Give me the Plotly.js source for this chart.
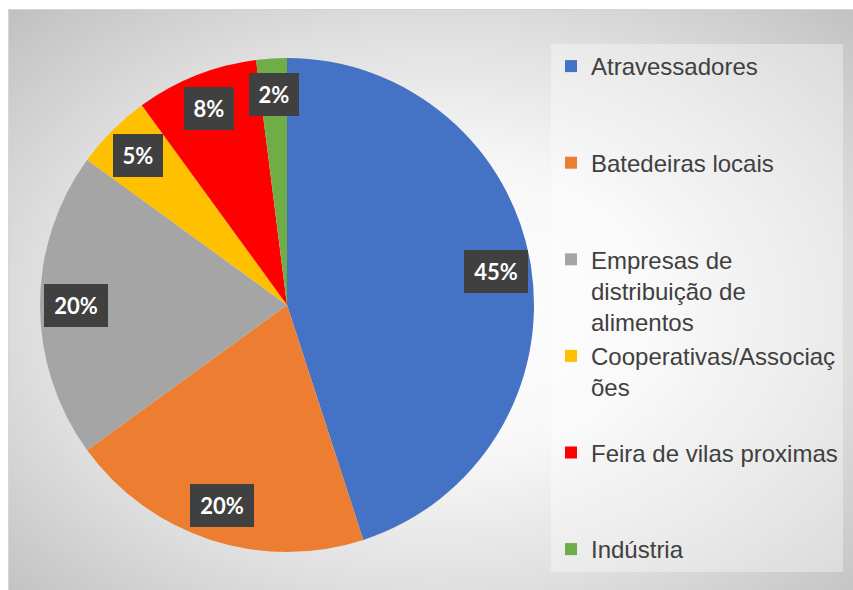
<!DOCTYPE html>
<html><head><meta charset="utf-8">
<script src="https://cdn.plot.ly/plotly-3.0.1.min.js"></script>
<style>
html,body{margin:0;padding:0;background:#fff;}
#bg{position:absolute;left:8px;top:9px;width:845px;height:581px;box-sizing:border-box;
background:radial-gradient(ellipse farthest-corner at 430px 300px,#ffffff 0%,#f7f7f7 35%,#e0e0e0 65%,#c0c0c0 100%);
border-top:1px solid #d6d6d6;border-left:1px solid #d6d6d6;}
#chart{position:absolute;left:0;top:0;width:853px;height:590px;}
</style></head><body>
<div id="bg"></div><div id="chart"></div>
<script>
const categories = [
  "Atravessadores",
  "Batedeiras locais",
  "Empresas de<br>distribuição de<br>alimentos",
  "Cooperativas/Associaç<br>ões",
  "Feira de vilas proximas",
  "Indústria"
];
const shares = [45, 20, 20, 5, 8, 2];
const sliceColors = ["#4472C4", "#ED7D31", "#A5A5A5", "#FFC000", "#FF0000", "#70AD47"];

const W = 853, H = 590;
const cxPx = 287, cyPx = 305, rPx = 247;

// pad legend labels to equal 3-line slots (last entry left as is)
const legendLabels = categories.map((c, i) => {
  if (i === categories.length - 1) return c;
  const n = c.split("<br>").length;
  let s = c;
  for (let j = n; j < 3; j++) s += "<br>\u00a0";
  return s;
});

const total = shares.reduce((a, b) => a + b, 0);
let cum = 0;
const annotations = shares.map(v => {
  const mid = (cum + v / 2) / total * 2 * Math.PI;
  cum += v;
  const k = 0.855;
  const txt = Math.round(v / total * 100) + "%";
  return {
    xref: "paper", yref: "paper",
    x: (cxPx + k * rPx * Math.sin(mid)) / W,
    y: (H - cyPx + k * rPx * Math.cos(mid)) / H,
    text: "<b>" + txt + "</b>",
    showarrow: false,
    font: {family: "Lato, 'Open Sans', sans-serif", size: 22, color: "#ffffff"},
    bgcolor: "#404040",
    borderwidth: 0,
    borderpad: 8,
    width: txt.length === 3 ? 48 : 34,
    height: 27,
    xanchor: "center", yanchor: "middle"
  };
});

const trace = {
  type: "pie",
  labels: legendLabels,
  values: shares,
  sort: false,
  direction: "clockwise",
  rotation: 0,
  marker: {colors: sliceColors, line: {width: 0}},
  textinfo: "none",
  hoverinfo: "label+percent",
  domain: {x: [(cxPx - rPx) / W, (cxPx + rPx) / W], y: [(H - cyPx - rPx) / H, (H - cyPx + rPx) / H]}
};

const layout = {
  width: W, height: H,
  margin: {l: 0, r: 0, t: 0, b: 0},
  paper_bgcolor: "rgba(0,0,0,0)",
  plot_bgcolor: "rgba(0,0,0,0)",
  showlegend: true,
  legend: {
    x: 551 / W, xanchor: "left",
    y: 1 - 44 / H, yanchor: "top",
    valign: "top",
    bgcolor: "rgba(255,255,255,0.35)",
    borderwidth: 0,
    font: {family: "'Liberation Sans', Arial, sans-serif", size: 24, color: "#404040"}
  },
  annotations: annotations
};

Plotly.newPlot("chart", [trace], layout, {displayModeBar: false, staticPlot: true});
</script>
</body></html>
